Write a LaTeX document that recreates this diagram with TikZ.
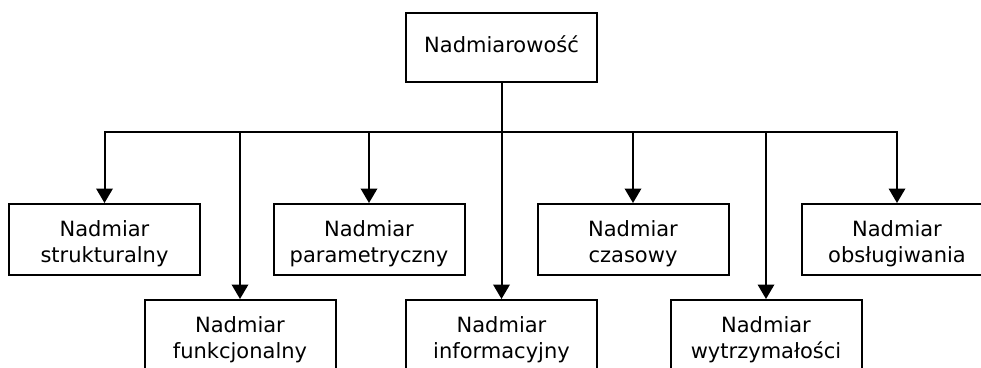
\documentclass[tikz,border=0pt]{standalone}
\usepackage{fontspec}
\setmainfont{DejaVu Sans}
\usetikzlibrary{arrows.meta}
\begin{document}
\begin{tikzpicture}[x=1pt,y=-1pt,
  box/.style={draw, line width=2pt, rectangle, minimum width=191pt,
    minimum height=71pt, inner sep=0pt, align=center,
    font=\fontsize{21pt}{25.5pt}\selectfont,
    text height=50pt, text depth=5pt},
  rootbox/.style={box, minimum height=69pt, text height=15pt, text depth=4.5pt},
  arr/.style={line width=2pt, -{Triangle[width=16.5pt,length=14.5pt]}},
  link/.style={line width=2pt, line cap=rect}]
  \useasboundingbox (0,0) rectangle (981,367);
  \clip (0,0) rectangle (981,367);

  % root of the tree
  \node[rootbox] (root) at (501.5,47.5) {Nadmiarowość};

  % first row
  \node[box] (str) at (104.5,239.5) {Nadmiar\\strukturalny};
  \node[box] (par) at (369,239.5) {Nadmiar\\parametryczny};
  \node[box] (cza) at (633,239.5) {Nadmiar\\czasowy};
  \node[box] (obs) at (897,239.5) {Nadmiar\\obsługiwania};

  % second row
  \node[box] (fun) at (240,335.5) {Nadmiar\\funkcjonalny};
  \node[box] (inf) at (501.5,335.5) {Nadmiar\\informacyjny};
  \node[box] (wyt) at (766,335.5) {Nadmiar\\wytrzymałości};

  % distribution bar
  \coordinate (bar) at (501.5,132);
  \draw[link] (root.south) -- (bar);
  \draw[link] (str.north |- bar) -- (obs.north |- bar);

  % branches
  \foreach \n in {str,fun,par,inf,cza,wyt,obs}
    \draw[arr] (\n.north |- bar) -- (\n.north);
\end{tikzpicture}
\end{document}
